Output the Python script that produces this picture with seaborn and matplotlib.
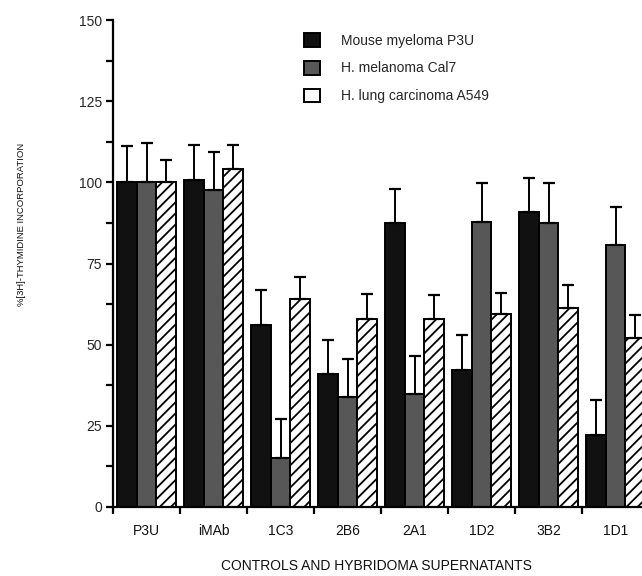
import matplotlib
matplotlib.use("Agg")
import matplotlib.pyplot as plt
import seaborn as sns
import pandas as pd
import numpy as np
from matplotlib.ticker import MultipleLocator, FixedLocator

categories = ["P3U", "iMAb", "1C3", "2B6", "2A1", "1D2", "3B2", "1D1"]
series = ["Mouse myeloma P3U", "H. melanoma Cal7", "H. lung carcinoma A549"]
p3u_vals = [100.2, 100.7, 56.0, 41.0, 87.6, 42.2, 90.9, 22.2]
cal7_vals = [100.0, 97.6, 15.0, 34.0, 34.8, 87.9, 87.4, 80.7]
a549_vals = [100.0, 104.0, 64.0, 57.9, 57.9, 59.4, 61.2, 52.0]
p3u_err = [111.2, 111.5, 66.8, 51.5, 98.1, 53.0, 101.4, 33.0]
cal7_err = [112.0, 109.4, 27.0, 45.5, 46.5, 99.7, 99.7, 92.3]
a549_err = [107.0, 111.5, 70.9, 65.5, 65.3, 66.0, 68.4, 59.1]

rows = []
for s, vals, errs in zip(series, [p3u_vals, cal7_vals, a549_vals], [p3u_err, cal7_err, a549_err]):
    for c, v, e in zip(categories, vals, errs):
        rows.append({"group": c, "series": s, "value": v, "upper": e})
df = pd.DataFrame(rows)

sns.set_theme(style="ticks")
plt.rcParams['font.family'] = ['Liberation Sans', 'DejaVu Sans']
plt.rcParams['hatch.linewidth'] = 1.3

fig = plt.figure(figsize=(6.42, 5.76), dpi=100)
ax = fig.add_axes([113/642, 69/576, (649-113)/642, 487/576])

palette = {series[0]: "#111111", series[1]: "#575757", series[2]: "#ffffff"}
sns.barplot(data=df, x="group", y="value", hue="series", order=categories,
            hue_order=series, palette=palette, width=0.87, gap=0,
            errorbar=None, edgecolor="black", linewidth=1.4, saturation=1,
            ax=ax, legend=True)

# hatch third series and draw upper error bars
bar_containers = list(ax.containers)[:3]
err_lists = [p3u_err, cal7_err, a549_err]
for si, cont in enumerate(bar_containers):
    errs = err_lists[si]
    for bi, bar in enumerate(cont):
        if si == 2:
            bar.set_hatch("///")
        x = bar.get_x() + bar.get_width() / 2
        top = bar.get_height()
        up = errs[bi]
        ax.errorbar([x], [top], yerr=[[0], [up - top]], fmt="none",
                    ecolor="black", elinewidth=1.4, capsize=4.5, capthick=1.6, zorder=1)

ax.set_xlim(-0.5, 7.5)
ax.set_ylim(0, 150)
ax.yaxis.set_major_locator(MultipleLocator(25))
ax.yaxis.set_minor_locator(MultipleLocator(12.5))
ax.xaxis.set_minor_locator(FixedLocator(np.arange(-0.5, 8, 1.0)))
ax.tick_params(axis="x", which="major", length=0, pad=12, labelsize=10, colors="#111111")
ax.tick_params(axis="x", which="minor", length=5, width=1.6, color="black")
ax.tick_params(axis="y", which="both", length=5, width=1.6, color="black", labelsize=10, pad=3)
sns.despine(ax=ax)
ax.spines["left"].set_linewidth(1.6)
ax.spines["bottom"].set_linewidth(1.6)
ax.spines["left"].set_color("black")
ax.spines["bottom"].set_color("black")

ax.set_xlabel("CONTROLS AND HYBRIDOMA SUPERNATANTS", fontsize=10, color="#111111")
ax.set_ylabel("%[3H]-THYMIDINE INCORPORATION", fontsize=6.8, color="#111111")
ax.xaxis.set_label_coords((376-113)/(649-113), -(559-507)/487)
ax.yaxis.set_label_coords(-(113-26)/(649-113), (507-224)/487)

handles, labels = ax.get_legend_handles_labels()
ax.legend(handles, labels, loc="upper left",
          bbox_to_anchor=(304/642, 1 - 33/576), bbox_transform=fig.transFigure,
          frameon=False, fontsize=10, handlelength=1.15, handleheight=1.15,
          handletextpad=1.5, labelspacing=0.95, borderpad=0, borderaxespad=0)

fig.savefig("out.png", dpi=100)
